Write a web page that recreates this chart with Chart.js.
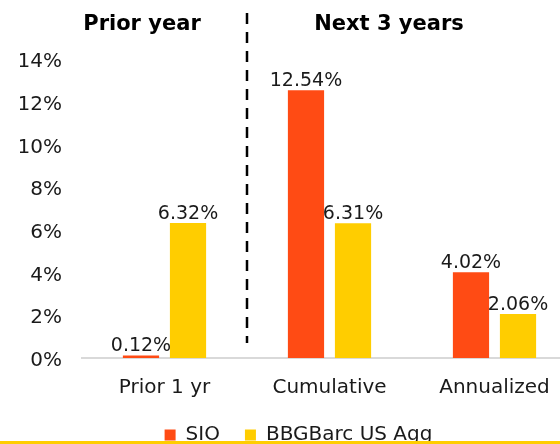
<!DOCTYPE html>
<html>
<head>
<meta charset="utf-8">
<script src="https://cdn.jsdelivr.net/npm/chart.js@4.4.1/dist/chart.umd.min.js"></script>
<style>
  html, body { margin: 0; padding: 0; background: #fff; overflow: hidden; }
  #wrap { position: relative; width: 560px; height: 444px; overflow: hidden; }
  #bottomline { position: absolute; left: 0; top: 441px; width: 560px; height: 3px; background: #ffcd00; }
</style>
</head>
<body>
<div id="wrap">
  <canvas id="barcanvas" width="580" height="455"></canvas>
  <div id="bottomline"></div>
</div>
<script>
// data
var categories = ["Prior 1 yr", "Cumulative", "Annualized"];
var sioValues = [0.12, 12.54, 4.02];
var aggValues = [6.32, 6.31, 2.06];
var seriesNames = ["SIO", "BBGBarc US Agg"];
var yTicks = [0, 2, 4, 6, 8, 10, 12, 14];
var sectionTitles = ["Prior year", "Next 3 years"];

var fontName = "'DejaVu Sans', sans-serif";
var textColor = "#1a1a1a";

// dashed divider, section titles and value labels
var extras = {
    id: "extras",
    afterDatasetsDraw: function (chart) {
        var ctx = chart.ctx;
        var x = chart.scales.x;
        ctx.save();

        //divider between first and second category
        var xm = (x.getPixelForValue(0) + x.getPixelForValue(1)) / 2;
        ctx.strokeStyle = "#000";
        ctx.lineWidth = 2.5;
        ctx.setLineDash([11, 8]);
        ctx.beginPath();
        ctx.moveTo(xm, 13);
        ctx.lineTo(xm, 343);
        ctx.stroke();
        ctx.setLineDash([]);

        //section titles
        ctx.fillStyle = "#000";
        ctx.font = "bold 21px " + fontName;
        ctx.textAlign = "center";
        ctx.textBaseline = "alphabetic";
        ctx.fillText(sectionTitles[0], 142, 30);
        ctx.fillText(sectionTitles[1], 389, 30);

        //value labels
        ctx.fillStyle = textColor;
        ctx.font = "19px " + fontName;
        chart.data.datasets.forEach(function (ds, i) {
            chart.getDatasetMeta(i).data.forEach(function (bar, j) {
                ctx.fillText(ds.data[j].toFixed(2) + "%", bar.x, bar.y - 4);
            });
        });
        ctx.restore();
    }
};

var bar = {
    labels: categories,
    datasets: [{
        label: seriesNames[0],
        backgroundColor: "#ff4b14",
        data: sioValues
    }, {
        label: seriesNames[1],
        backgroundColor: "#ffcd00",
        data: aggValues
    }]
};

window.onload = function () {
    var ctx = document.getElementById("barcanvas").getContext("2d");
    window.myBar = new Chart(ctx, {
        type: "bar",
        data: bar,
        plugins: [extras],
        options: {
            responsive: false,
            animation: false,
            layout: { padding: { top: 59, left: 20, right: 3, bottom: 0 } },
            datasets: {
                bar: { categoryPercentage: 0.57, barPercentage: 0.77 }
            },
            plugins: {
                title: { display: false },
                tooltip: { enabled: false },
                legend: {
                    position: "bottom",
                    labels: {
                        boxWidth: 11,
                        boxHeight: 11,
                        padding: 25,
                        color: textColor,
                        font: { family: fontName, size: 20 }
                    }
                }
            },
            scales: {
                x: {
                    grid: { display: false, drawTicks: false },
                    border: { display: true, color: "#d9d9d9", width: 2 },
                    ticks: {
                        padding: 18,
                        color: textColor,
                        font: { family: fontName, size: 20 }
                    },
                    afterFit: function (axis) { axis.height = 42; }
                },
                y: {
                    min: yTicks[0],
                    max: yTicks[yTicks.length - 1],
                    grid: { display: false, drawTicks: false },
                    border: { display: false },
                    afterBuildTicks: function (axis) {
                        axis.ticks = yTicks.map(function (v) { return { value: v }; });
                    },
                    afterFit: function (axis) { axis.width = 62; },
                    ticks: {
                        padding: 20,
                        labelOffset: 3,
                        color: textColor,
                        font: { family: fontName, size: 20 },
                        callback: function (v) { return v + "%"; }
                    }
                }
            }
        }
    });
};
</script>
</body>
</html>
